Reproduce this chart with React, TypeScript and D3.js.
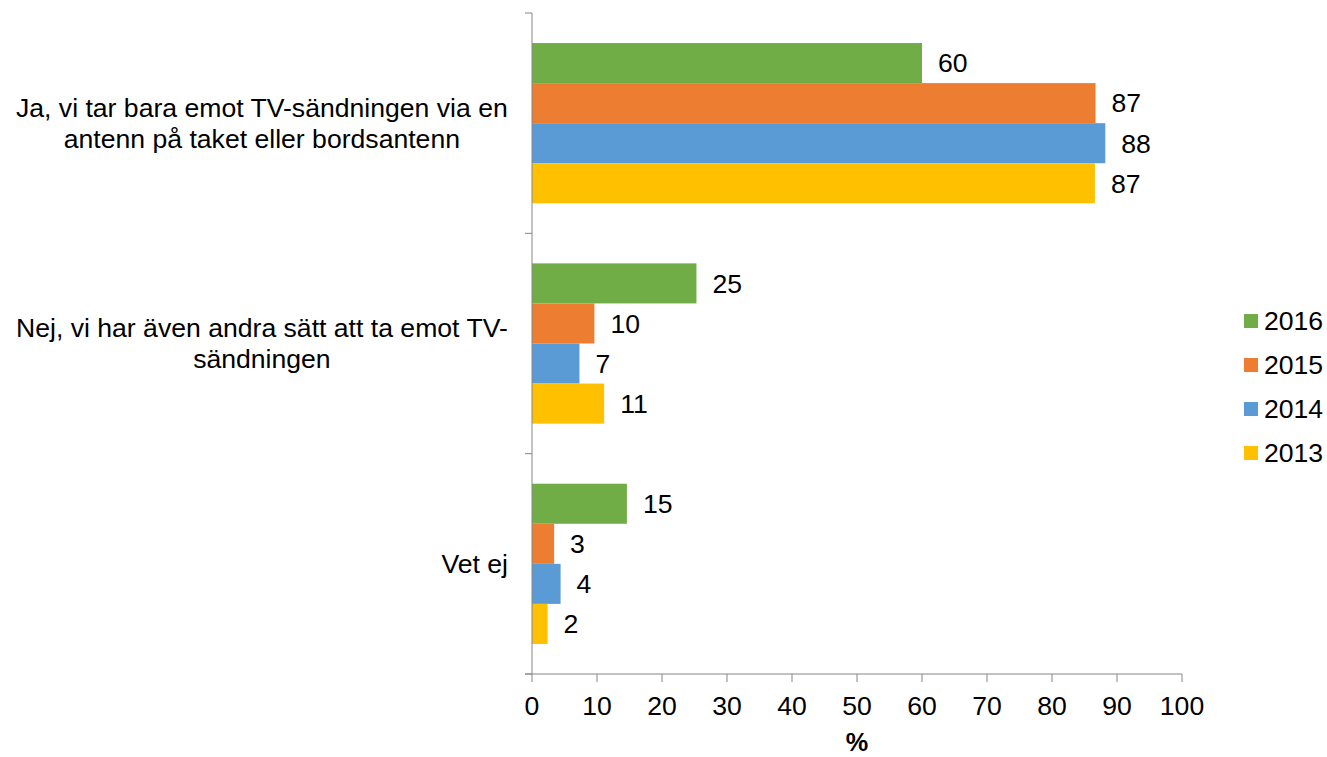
import React, { useMemo } from "react";
import * as d3 from "d3";

const categories = ["ja", "nej", "vetej"];
const categoryLines: string[][] = [
  ["Ja, vi tar bara emot TV-sändningen via en", "antenn på taket eller bordsantenn"],
  ["Nej, vi har även andra sätt att ta emot TV-", "sändningen"],
  ["Vet ej"],
];
const seriesNames = ["2016", "2015", "2014", "2013"];
const values2016 = [60, 25.3, 14.6];
const values2015 = [86.7, 9.6, 3.4];
const values2014 = [88.2, 7.3, 4.4];
const values2013 = [86.6, 11.1, 2.4];
const seriesValues = [values2016, values2015, values2014, values2013];
const seriesColors = ["#70AD47", "#ED7D31", "#5B9BD5", "#FFC000"];
const xTicks = [0, 10, 20, 30, 40, 50, 60, 70, 80, 90, 100];
const axisTitle = "%";

const FONT = "'Liberation Sans', Arial, sans-serif";
const FS = 26.6;

function measure(text: string, size: number): number {
  try {
    const c = document.createElement("canvas");
    const ctx = c.getContext("2d");
    if (ctx) {
      ctx.font = `${size}px ${FONT}`;
      return ctx.measureText(text).width;
    }
  } catch (e) {}
  return text.length * size * 0.5;
}

export default function App() {
  const W = 1327;
  const H = 757;
  const plot = { left: 532, right: 1182, top: 13, bottom: 674 };

  const x = d3.scaleLinear().domain([0, 100]).range([plot.left, plot.right]);
  const y = d3.scaleBand<string>().domain(categories).range([plot.top, plot.bottom]).padding(0);
  const inner = d3
    .scaleBand<string>()
    .domain(seriesNames)
    .range([0, y.bandwidth()])
    .paddingInner(0)
    .paddingOuter(0.75);

  const blockWidths = useMemo(
    () => categoryLines.map((lines) => Math.max(...lines.map((l) => measure(l, FS)))),
    []
  );

  const labelRight = 508;
  const lineH = 31;
  const axisColor = "#868686";

  const legendX = 1244;
  const legendY0 = 321;
  const legendStep = 44;

  return (
    <svg
      width={W}
      height={H}
      style={{ position: "absolute", left: 0, top: 0, display: "block", background: "#fff" }}
      fontFamily={FONT}
    >
      <rect x={0} y={0} width={W} height={H} fill="#fff" />
      {seriesNames.map((s, si) =>
        categories.map((c, ci) => {
          const v = seriesValues[si][ci];
          const y0 = (y(c) as number) + (inner(s) as number);
          return (
            <g key={s + c}>
              <rect
                x={x(0)}
                y={y0}
                width={x(v) - x(0)}
                height={inner.bandwidth()}
                fill={seriesColors[si]}
              />
              <text
                x={x(v) + 16}
                y={y0 + inner.bandwidth() / 2}
                dy="0.35em"
                fontSize={FS}
                fill="#000"
              >
                {Math.round(v)}
              </text>
            </g>
          );
        })
      )}

      <line x1={plot.left} x2={plot.left} y1={plot.top} y2={plot.bottom} stroke={axisColor} strokeWidth={1} />
      {[...categories.map((c) => y(c) as number), plot.bottom].map((ty, i) => (
        <line key={"yt" + i} x1={plot.left - 7} x2={plot.left} y1={ty} y2={ty} stroke={axisColor} strokeWidth={1} />
      ))}

      <line x1={plot.left - 7} x2={plot.right} y1={plot.bottom} y2={plot.bottom} stroke={axisColor} strokeWidth={1} />
      {xTicks.map((t) => (
        <g key={"xt" + t}>
          <line x1={x(t)} x2={x(t)} y1={plot.bottom} y2={plot.bottom + 8} stroke={axisColor} strokeWidth={1} />
          <text x={x(t)} y={715} textAnchor="middle" fontSize={FS} fill="#000">
            {t}
          </text>
        </g>
      ))}
      <text x={(plot.left + plot.right) / 2} y={751} textAnchor="middle" fontSize={FS * 0.95} fontWeight="bold" fill="#000">
        {axisTitle}
      </text>

      {categories.map((c, ci) => {
        const lines = categoryLines[ci];
        const cy = (y(c) as number) + y.bandwidth() / 2;
        const cx = labelRight - blockWidths[ci] / 2;
        const startY = cy - ((lines.length - 1) * lineH) / 2;
        return (
          <text key={"cl" + c} textAnchor="middle" fontSize={FS} fill="#000">
            {lines.map((l, li) => (
              <tspan key={li} x={cx} y={startY + li * lineH} dy="0.35em">
                {l}
              </tspan>
            ))}
          </text>
        );
      })}

      {seriesNames.map((s, si) => (
        <g key={"lg" + s}>
          <rect x={legendX} y={legendY0 + si * legendStep - 7} width={14} height={14} fill={seriesColors[si]} />
          <text x={legendX + 20} y={legendY0 + si * legendStep} dy="0.35em" fontSize={FS} fill="#000">
            {s}
          </text>
        </g>
      ))}
    </svg>
  );
}
